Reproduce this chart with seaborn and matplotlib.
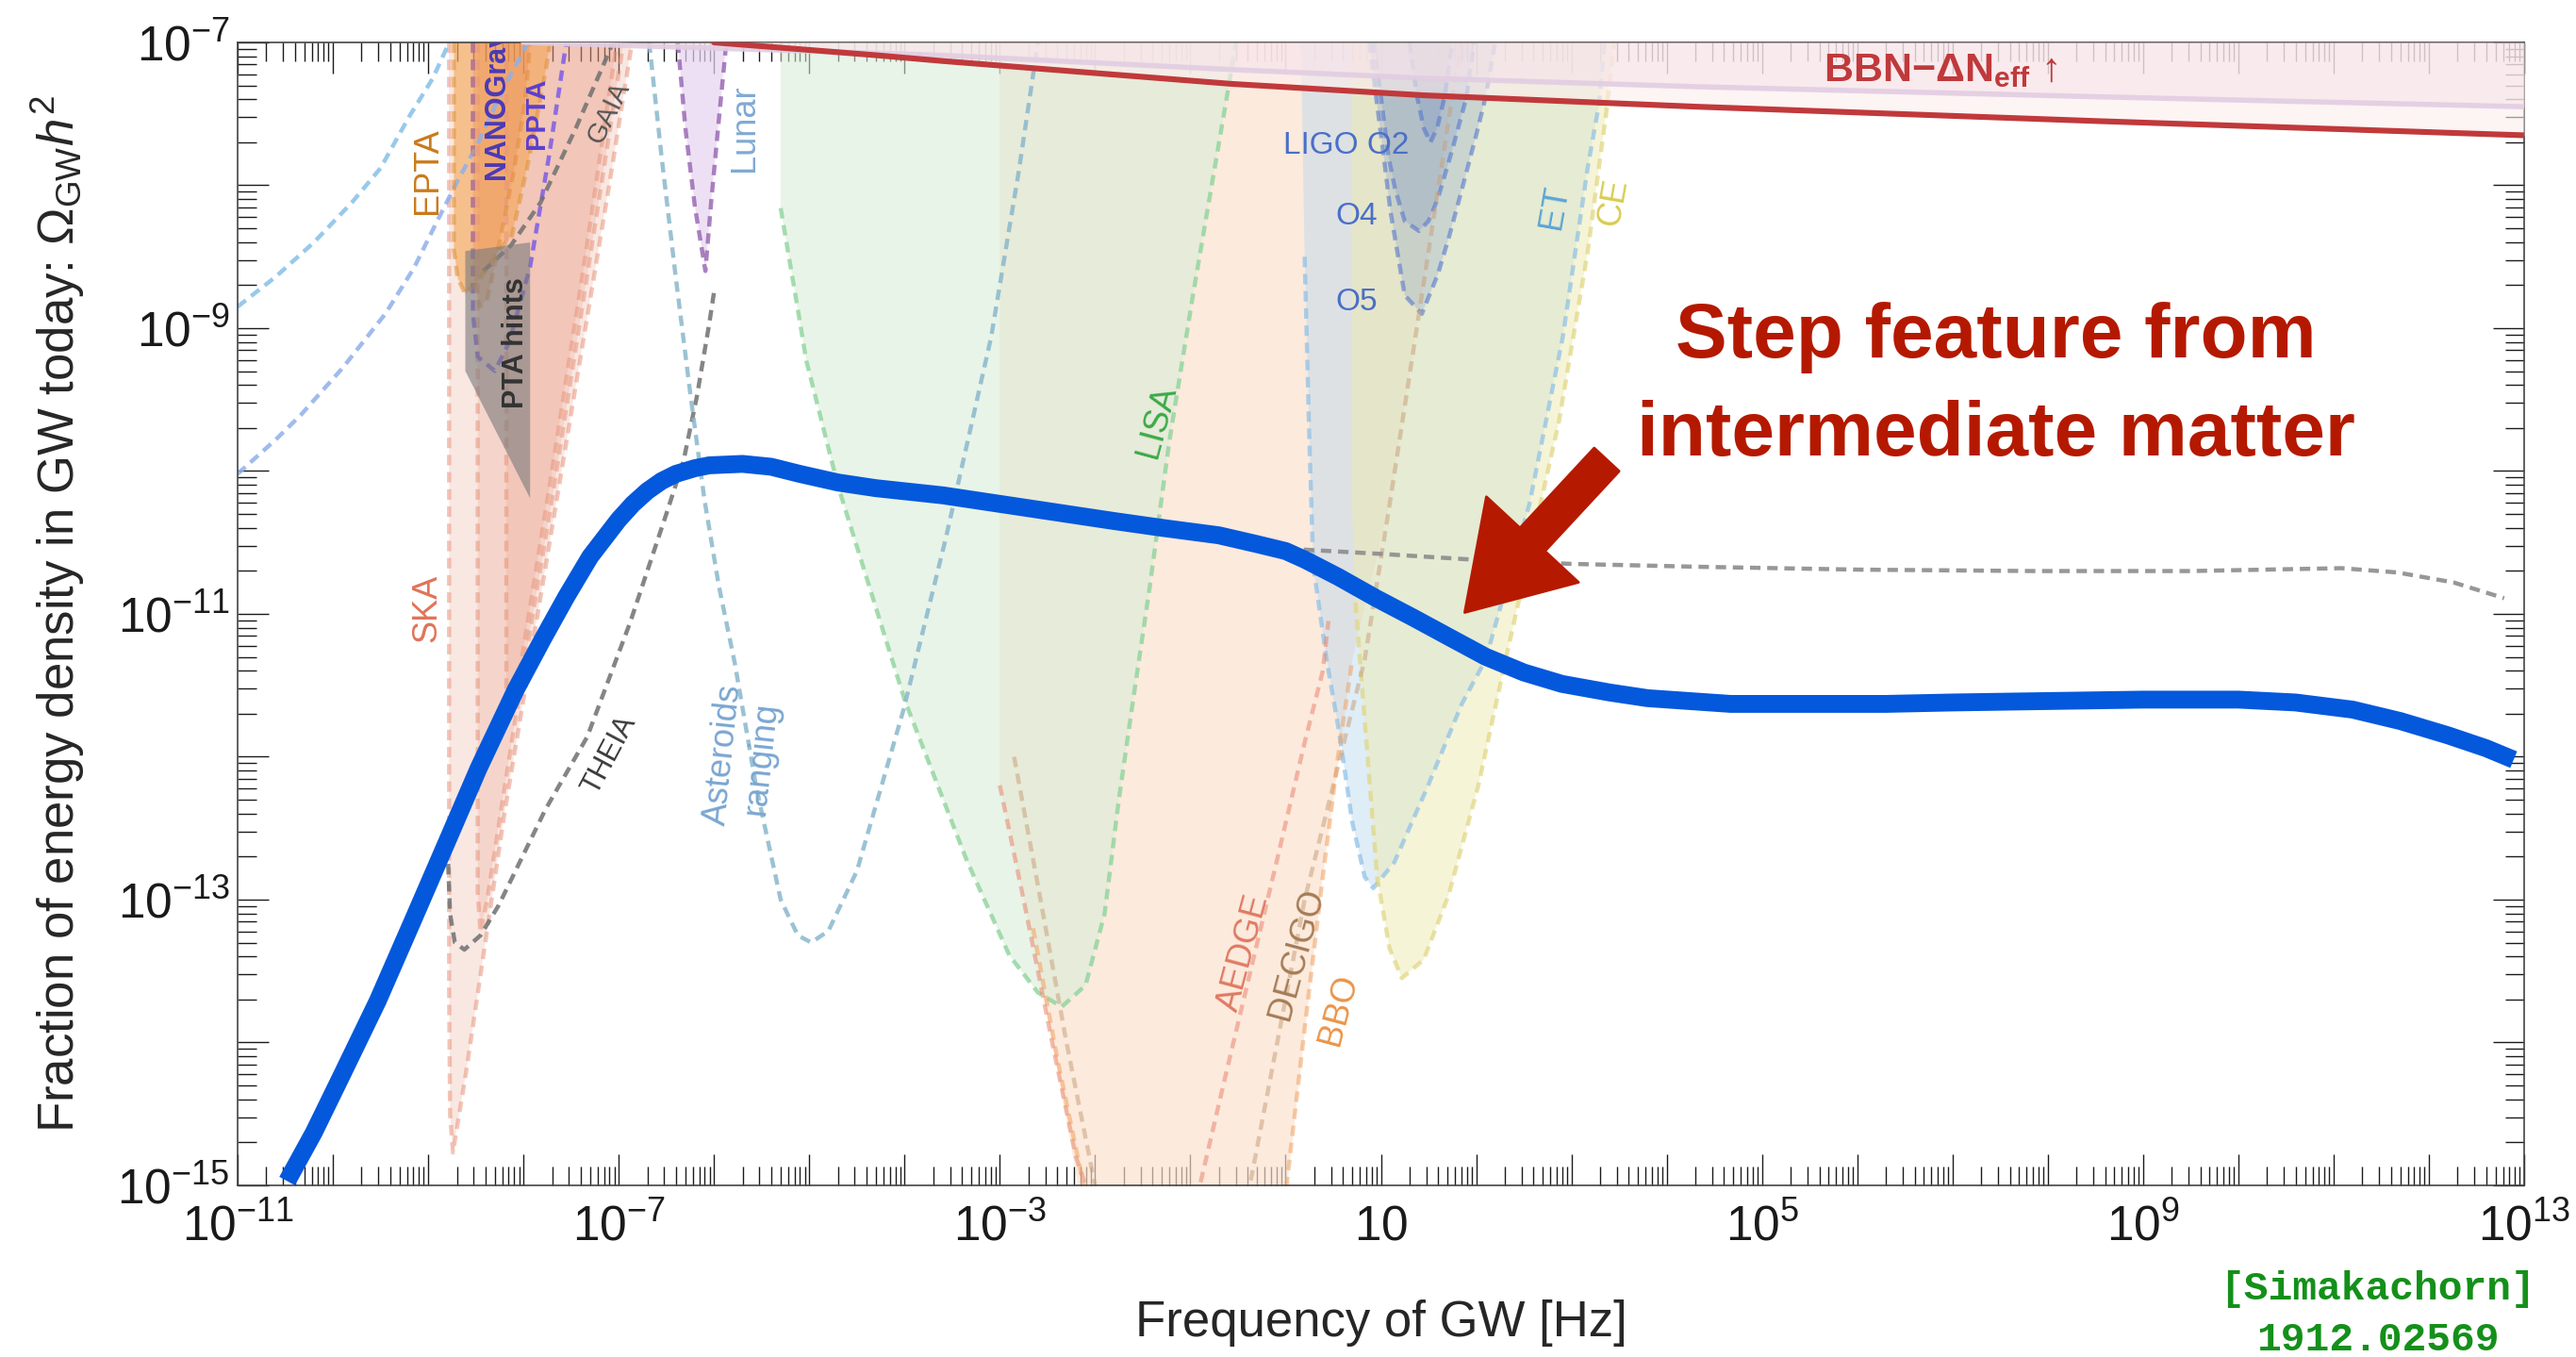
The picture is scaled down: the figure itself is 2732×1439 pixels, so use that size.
import numpy as np
import pandas as pd
import matplotlib
matplotlib.use("Agg")
import matplotlib.pyplot as plt
from matplotlib import font_manager
from matplotlib.ticker import LogLocator, FuncFormatter, NullFormatter
import seaborn as sns

# ------------------------------------------------------------------
# Data: every curve is given as log10(f / Hz) and log10(Omega_GW h^2)
# ------------------------------------------------------------------
signal_logf = [-10.48, -10.2, -9.9, -9.53, -9.15, -8.78, -8.47, -8.08, -7.8, -7.55,
               -7.3, -7.0, -6.85, -6.7, -6.55, -6.4, -6.2, -6.05, -5.7, -5.4,
               -5.1, -4.7, -4.3, -3.6, -2.6, -1.8, -1.27, -0.7, -0.31, 0.0,
               0.2, 0.55, 0.95, 1.35, 1.71, 2.1, 2.5, 2.9, 3.4, 3.8,
               4.67, 5.5, 6.3, 7.0, 8.0, 9.0, 10.0, 10.6, 11.2, 11.7,
               12.2, 12.6, 12.89]
signal_logo = [-14.97, -14.63, -14.22, -13.71, -13.13, -12.56, -12.08, -11.53, -11.18, -10.88,
               -10.6, -10.34, -10.23, -10.14, -10.07, -10.02, -9.98, -9.96, -9.95, -9.97,
               -10.02, -10.08, -10.12, -10.17, -10.27, -10.35, -10.40, -10.45, -10.51, -10.56,
               -10.62, -10.74, -10.89, -11.03, -11.16, -11.3, -11.41, -11.49, -11.55, -11.59,
               -11.63, -11.63, -11.63, -11.62, -11.61, -11.60, -11.60, -11.62, -11.67, -11.75,
               -11.85, -11.94, -12.02]

bbn_logf = [-6.0, -4.29, -3.6, -0.57, 1.45, 4.32, 8.5, 13.0]
bbn_logo = [-7.0, -7.09, -7.13, -7.29, -7.37, -7.45, -7.55, -7.65]
bbn_band_logf = [-8.0, -4.29, -3.6, -0.57, 1.45, 4.32, 8.5, 13.0]
bbn_band_logo = [-7.0, -7.075, -7.09, -7.19, -7.25, -7.31, -7.38, -7.45]

pta_a_logf = [-11.0, -10.6, -10.2, -9.8, -9.5, -9.2, -8.95, -8.78]
pta_a_logo = [-8.85, -8.64, -8.4, -8.12, -7.88, -7.52, -7.25, -7.0]
pta_b_logf = [-11.0, -10.6, -10.34, -9.9, -9.45, -9.15, -8.92, -8.7, -8.48, -8.3, -8.12, -7.95]
pta_b_logo = [-10.02, -9.78, -9.61, -9.28, -8.9, -8.58, -8.27, -7.98, -7.71, -7.45, -7.21, -7.0]

ska1_logf = [-8.78, -8.78, -8.77, -8.74, -8.6, -8.4, -8.2, -7.9, -7.5, -7.1, -6.86]
ska1_logo = [-7.0, -13.6, -14.5, -14.77, -14.2, -13.3, -12.4, -11.2, -9.6, -8.0, -7.0]
ska2_logf = [-8.48, -8.48, -8.45, -8.38, -8.1, -7.7, -7.3, -6.95]
ska2_logo = [-7.0, -12.95, -13.23, -13.0, -11.8, -10.2, -8.5, -7.0]
ska3_logf = [-8.18, -8.18, -8.14, -8.05, -7.7, -7.35, -7.02]
ska3_logo = [-7.0, -11.5, -11.73, -11.45, -10.0, -8.5, -7.0]

epta_logf = [-8.73, -8.73, -8.69, -8.61, -8.45, -8.25, -8.12, -7.95, -7.77, -7.72]
epta_logo = [-7.0, -8.45, -8.65, -8.76, -8.65, -8.45, -8.35, -7.84, -7.21, -7.0]
nanograv_logf = [-8.53, -8.53, -8.46, -8.38, -8.25, -8.1, -7.98, -7.93]
nanograv_logo = [-7.0, -8.6, -8.85, -8.8, -8.4, -7.9, -7.4, -7.0]
ppta_logf = [-8.53, -8.53, -8.48, -8.3, -8.15, -7.93, -7.73, -7.55]
ppta_logo = [-7.0, -8.9, -9.2, -9.3, -9.1, -8.57, -7.79, -7.0]
pta_hint_logf = [-8.61, -7.93, -7.93, -8.61]
pta_hint_logo = [-8.46, -8.40, -10.19, -9.30]

gaia_logf = [-8.42, -8.13, -7.82, -7.45, -7.11, -7.06]
gaia_logo = [-8.6, -8.42, -8.12, -7.6, -7.08, -7.0]
theia_logf = [-8.79, -8.77, -8.72, -8.62, -8.45, -8.26, -7.77, -7.33, -6.88, -6.5,
              -6.32, -6.18, -6.05, -6.0]
theia_logo = [-12.75, -13.1, -13.3, -13.35, -13.25, -13.04, -12.37, -11.86, -11.06, -10.3,
              -9.93, -9.48, -8.97, -8.75]
lunar_logf = [-6.38, -6.3, -6.2, -6.09, -6.03, -5.95, -5.87]
lunar_logo = [-7.0, -7.6, -8.15, -8.6, -8.12, -7.55, -7.0]
asteroid_logf = [-6.68, -6.55, -6.4, -6.25, -6.1, -5.95, -5.78, -5.56, -5.3, -5.12,
                 -4.98, -4.8, -4.5, -4.01, -3.57, -3.09, -2.8, -2.6]
asteroid_logo = [-7.0, -7.8, -8.65, -9.45, -10.2, -10.8, -11.35, -12.2, -13.0, -13.25,
                 -13.3, -13.22, -12.8, -11.67, -10.48, -9.06, -7.9, -7.0]

lisa_logf = [-5.3, -5.3, -5.15, -5.03, -4.7, -4.0, -3.35, -2.9, -2.6, -2.35,
             -2.1, -1.9, -1.75, -1.6, -1.43, -1.22, -0.97, -0.75, -0.57, -0.52]
lisa_logo = [-7.0, -8.16, -8.75, -9.23, -10.1, -11.6, -12.72, -13.39, -13.65, -13.75,
             -13.6, -13.1, -12.3, -11.6, -10.83, -9.79, -8.76, -7.9, -7.2, -7.0]

space_fill_logf = [-3.0, -3.0, -2.75, -2.45, -2.15, 0.0, 0.39, 0.7, 1.1, 1.4, 1.75, 1.85]
space_fill_logo = [-7.0, -12.2, -13.0, -14.0, -15.1, -15.1, -12.84, -11.32, -10.2, -8.9, -7.38, -7.0]
aedge_logf = [-3.0, -2.75, -2.45, -2.2, -1.9, -1.2, -0.9, -0.63, -0.1, 0.2, 0.39, 0.45]
aedge_logo = [-12.2, -13.0, -14.0, -14.8, -15.4, -15.6, -15.0, -14.23, -12.75, -11.9, -11.4, -11.05]
decigo_logf = [-2.85, -2.6, -2.3, -2.0, -1.6, -0.6, -0.37, 0.2, 0.83, 1.1, 1.4, 1.75, 1.85]
decigo_logo = [-12.0, -12.9, -14.0, -15.0, -15.8, -15.8, -14.98, -13.0, -11.32, -10.2, -8.9, -7.38, -7.0]
bbo_logf = [-2.65, -2.4, -2.12, -1.8, -0.3, 0.01, 0.2, 0.39, 0.55, 0.7]
bbo_logo = [-13.2, -14.1, -15.0, -15.8, -16.0, -15.0, -13.9, -12.84, -12.0, -11.32]

et_logf = [0.16, 0.2, 0.25, 0.29, 0.43, 0.56, 0.7, 0.83, 0.92, 1.14,
           1.49, 1.85, 2.1, 2.56, 2.91, 3.17, 3.29, 3.35]
et_logo = [-7.0, -8.5, -9.8, -10.66, -11.32, -11.82, -12.46, -12.84, -12.92, -12.74,
           -12.21, -11.63, -11.32, -10.23, -9.06, -7.88, -7.43, -7.0]
ce_logf = [0.69, 0.69, 0.72, 0.78, 0.87, 0.96, 1.09, 1.22, 1.45, 1.71,
           2.02, 2.3, 2.87, 3.17, 3.37, 3.45]
ce_logo = [-7.0, -10.0, -10.8, -11.32, -12.08, -12.84, -13.34, -13.55, -13.42, -12.97,
           -12.21, -11.35, -9.65, -8.47, -7.47, -7.0]
ligo_o2_logf = [1.3, 1.38, 1.45, 1.52, 1.59, 1.67, 1.75]
ligo_o2_logo = [-7.0, -7.38, -7.6, -7.7, -7.6, -7.38, -7.0]
ligo_o4_logf = [0.92, 1.0, 1.08, 1.15, 1.25, 1.4, 1.5, 1.6, 1.75, 1.9, 1.98]
ligo_o4_logo = [-7.0, -7.38, -7.8, -8.03, -8.25, -8.32, -8.25, -8.09, -7.75, -7.38, -7.0]
ligo_o5_logf = [0.88, 0.95, 1.03, 1.1, 1.25, 1.43, 1.6, 1.72, 1.85, 2.0, 2.1, 2.2]
ligo_o5_logo = [-7.0, -7.38, -7.8, -8.18, -8.77, -8.9, -8.62, -8.35, -8.03, -7.65, -7.38, -7.0]

highf_logf = [0.19, 1.0, 1.96, 3.0, 4.32, 6.0, 7.85, 9.5, 11.08, 11.67, 12.26, 12.79]
highf_logo = [-10.55, -10.58, -10.62, -10.65, -10.67, -10.69, -10.70, -10.70, -10.68, -10.71, -10.78, -10.89]

x_tick_text = {-11: r"$10^{-11}$", -7: r"$10^{-7}$", -3: r"$10^{-3}$", 1: r"$10$",
               5: r"$10^{5}$", 9: r"$10^{9}$", 13: r"$10^{13}$"}
y_tick_text = {-15: r"$10^{-15}$", -13: r"$10^{-13}$", -11: r"$10^{-11}$",
               -9: r"$10^{-9}$", -7: r"$10^{-7}$"}

# ------------------------------------------------------------------
sns.set_style("ticks")
names = {f.name for f in font_manager.fontManager.ttflist}
BASE = "Liberation Sans" if "Liberation Sans" in names else "DejaVu Sans"
MONO = "Liberation Mono" if "Liberation Mono" in names else "DejaVu Sans Mono"
plt.rcParams["font.family"] = [BASE, "DejaVu Sans"]
plt.rcParams["mathtext.fontset"] = "custom"
plt.rcParams["mathtext.rm"] = BASE
plt.rcParams["mathtext.it"] = BASE + ":italic"
plt.rcParams["mathtext.bf"] = BASE + ":bold"

fig = plt.figure(figsize=(13.66, 7.195), dpi=200)
ax = fig.add_axes([0.09224, 0.12648, 0.88763, 0.84225])
ax.set_xscale("log")
ax.set_yscale("log")
ax.set_xlim(1e-11, 1e13)
ax.set_ylim(1e-15, 1e-7)

P = lambda v: 10.0 ** np.asarray(v, dtype=float)
DASH = (0, (2.5, 1.6))


def region(lx, ly, face, alpha, edge=None, ealpha=0.65, z=1.0, start=0, stop=None):
    X, Y = P(lx), P(ly)
    ax.fill(X, Y, color=face, alpha=alpha, lw=0, zorder=z)
    if edge is not None:
        ax.plot(X[start:stop], Y[start:stop], ls=DASH, lw=1.6, color=edge,
                alpha=ealpha, zorder=z + 0.5)


def dashed(lx, ly, color, alpha=0.85, z=2.0, lw=1.6):
    ax.plot(P(lx), P(ly), ls=DASH, lw=lw, color=color, alpha=alpha, zorder=z)


# Space interferometers
region(space_fill_logf, space_fill_logo, "#fbe0cc", 0.65, z=1.0)
region(lisa_logf, lisa_logo, "#d6ecd6", 0.55, edge="#8fd49c", ealpha=0.8, z=1.1, start=1)
dashed(aedge_logf, aedge_logo, "#e8866e", 0.55)
dashed(decigo_logf, decigo_logo, "#c8a27e", 0.55)
dashed(bbo_logf, bbo_logo, "#f0a262", 0.55)

# Ground based interferometers
region(et_logf, et_logo, "#b9d8ee", 0.45, edge="#8cc0e6", ealpha=0.7, z=1.2, start=1)
region(ce_logf, ce_logo, "#eeeab0", 0.5, edge="#e0d680", ealpha=0.7, z=1.3, start=2)
for lf, lo in ((ligo_o5_logf, ligo_o5_logo), (ligo_o4_logf, ligo_o4_logo),
               (ligo_o2_logf, ligo_o2_logo)):
    region(lf, lo, "#5b7fc6", 0.2, edge="#5577cc", ealpha=0.6, z=1.4)

# Pulsar timing arrays
for lf, lo in ((ska1_logf, ska1_logo), (ska2_logf, ska2_logo), (ska3_logf, ska3_logo)):
    region(lf, lo, "#e8957c", 0.22, edge="#e8957c", ealpha=0.55, z=1.5)
region(epta_logf, epta_logo, "#f5a654", 0.6, edge="#e0953e", ealpha=0.6, z=1.6)
region(nanograv_logf, nanograv_logo, "#ea8c4c", 0.35, edge="#e08a40", ealpha=0.5, z=1.7)
dashed(ppta_logf, ppta_logo, "#7b5ce6", 0.85)
ax.fill(P(pta_hint_logf), P(pta_hint_logo), color="#7c7c7c", alpha=0.62, lw=0, zorder=2.6)

dashed(pta_a_logf, pta_a_logo, "#86c0e8")
dashed(pta_b_logf, pta_b_logo, "#90b0ea")
dashed(gaia_logf, gaia_logo, "#707070")
dashed(theia_logf, theia_logo, "#707070")
region(lunar_logf, lunar_logo, "#e6d4f0", 0.7, edge="#9b6bb5", ealpha=0.85, z=1.8)
dashed(asteroid_logf, asteroid_logo, "#8ab8cc")
dashed(highf_logf, highf_logo, "#8c8c8c", 0.9)

# BBN bound on extra radiation
xb = P(bbn_logf)
ax.fill_between(xb, P(bbn_logo), 1e-7, color="#fdeeee", alpha=0.6, lw=0, zorder=3.5)
xbb = P(bbn_band_logf)
ax.fill_between(xbb, P(bbn_band_logo), 1e-7, color="#f6e2e9", alpha=0.55, lw=0, zorder=3.6)
ax.plot(xbb, P(bbn_band_logo), color="#e2cde2", lw=2.0, alpha=0.9, zorder=3.7)
ax.plot(xb, P(bbn_logo), color="#c0393b", lw=2.2, zorder=4)


# Experiment labels
def label(lf, lo, s, color, rot=90, size=13, weight="normal", ha="center", va="center"):
    ax.text(P(lf), P(lo), s, color=color, rotation=rot, fontsize=size, fontweight=weight,
            ha=ha, va=va, zorder=3, clip_on=True, rotation_mode="anchor")


label(-9.01, -7.9, "EPTA", "#c97a1c")
label(-8.28, -7.96, "NANOGrav", "#4b3ab5", size=11, weight="bold", ha="left")
label(-7.86, -7.5, "PPTA", "#5b3fd0", size=10.5, weight="bold")
label(-7.11, -7.49, "GAIA", "#555555", rot=64, size=10.5)
label(-5.68, -7.6, "Lunar", "#80a9d4")
label(-8.08, -9.1, "PTA hints", "#333333", size=11, weight="bold")
label(-9.01, -10.96, "SKA", "#e07458")
label(-7.1, -11.99, "THEIA", "#3a3a3a", rot=62, size=11)
ax.text(P(-5.7), P(-12.0), "Asteroids\nranging", color="#7aa6d2", rotation=84, fontsize=13,
        ha="center", va="center", multialignment="center", rotation_mode="anchor", zorder=3)
label(-1.35, -9.65, "LISA", "#3aaa48", rot=75)
label(-0.44, -13.37, "AEDGE", "#e07a62", rot=75)
label(0.12, -13.38, "DECIGO", "#a57c55", rot=75)
label(0.56, -13.77, "BBO", "#eb9448", rot=75)
label(0.64, -7.72, "LIGO O2", "#4a6fc8", rot=0, size=12)
label(0.74, -8.22, "O4", "#4a6fc8", rot=0, size=12)
label(0.74, -8.82, "O5", "#4a6fc8", rot=0, size=12)
label(2.82, -8.15, "ET", "#5aa5d5", rot=80)
label(3.44, -8.12, "CE", "#d8cc50", rot=80)
ax.text(P(5.65), P(-7.27), "BBN\u2212\u0394N$_{\\mathbf{eff}}$ \u2191", color="#c0393b",
        fontsize=15.5, fontweight="bold", ha="left", va="baseline", zorder=4.5)

# Signal spectrum
signal = pd.DataFrame({"f": P(signal_logf), "omega": P(signal_logo)})
sns.lineplot(data=signal, x="f", y="omega", ax=ax, color="#0458dc", lw=6.8,
             sort=False, legend=False, zorder=5, solid_capstyle="butt")

# Annotation
ax.annotate("", xy=(P(1.88), P(-10.99)), xytext=(P(3.37), P(-9.92)),
            arrowprops=dict(arrowstyle="simple,head_length=38,head_width=48,tail_width=13",
                            mutation_scale=1, color="#b51a00", shrinkA=0, shrinkB=0),
            zorder=6)
ax.text(P(7.46), P(-9.41), "Step feature from\nintermediate matter", color="#b41900",
        fontsize=29.5, fontweight="bold", ha="center", va="center",
        multialignment="center", linespacing=1.48, zorder=6)

# Axes styling
for s in ax.spines.values():
    s.set_color("#444444")
    s.set_linewidth(0.6)
for axis, texts in ((ax.xaxis, x_tick_text), (ax.yaxis, y_tick_text)):
    axis.set_major_locator(LogLocator(base=10, numticks=40))
    axis.set_minor_locator(LogLocator(base=10, subs=np.arange(2, 10), numticks=400))
    axis.set_minor_formatter(NullFormatter())
    axis.set_major_formatter(FuncFormatter(
        lambda v, pos, t=texts: t.get(int(round(np.log10(v))), "")))
ax.tick_params(which="both", direction="in", top=True, right=True, colors="#1a1a1a",
               width=0.5)
ax.tick_params(which="major", length=11.9, labelsize=18.5)
ax.tick_params(which="minor", length=7.2)
ax.tick_params(axis="x", which="major", pad=7)
ax.tick_params(axis="y", which="major", pad=3)

ax.set_xlabel("Frequency of GW [Hz]", fontsize=19)
ax.set_ylabel(r"Fraction of energy density in GW today: $\Omega_{\rm GW}h^2$", fontsize=19)
ax.xaxis.set_label_coords(0.5, -0.10)
ax.yaxis.set_label_coords(-0.066, 0.5)
ax.grid(False)

fig.text(2521.5 / 2732, 1 - 1378 / 1439, "[Simakachorn]", color="#14901a", family=MONO,
         fontweight="bold", fontsize=15.5, ha="center", va="baseline")
fig.text(2521.5 / 2732, 1 - 1432 / 1439, "1912.02569", color="#14901a", family=MONO,
         fontweight="bold", fontsize=15.5, ha="center", va="baseline")

fig.savefig("out.png", dpi=200, facecolor="white")
